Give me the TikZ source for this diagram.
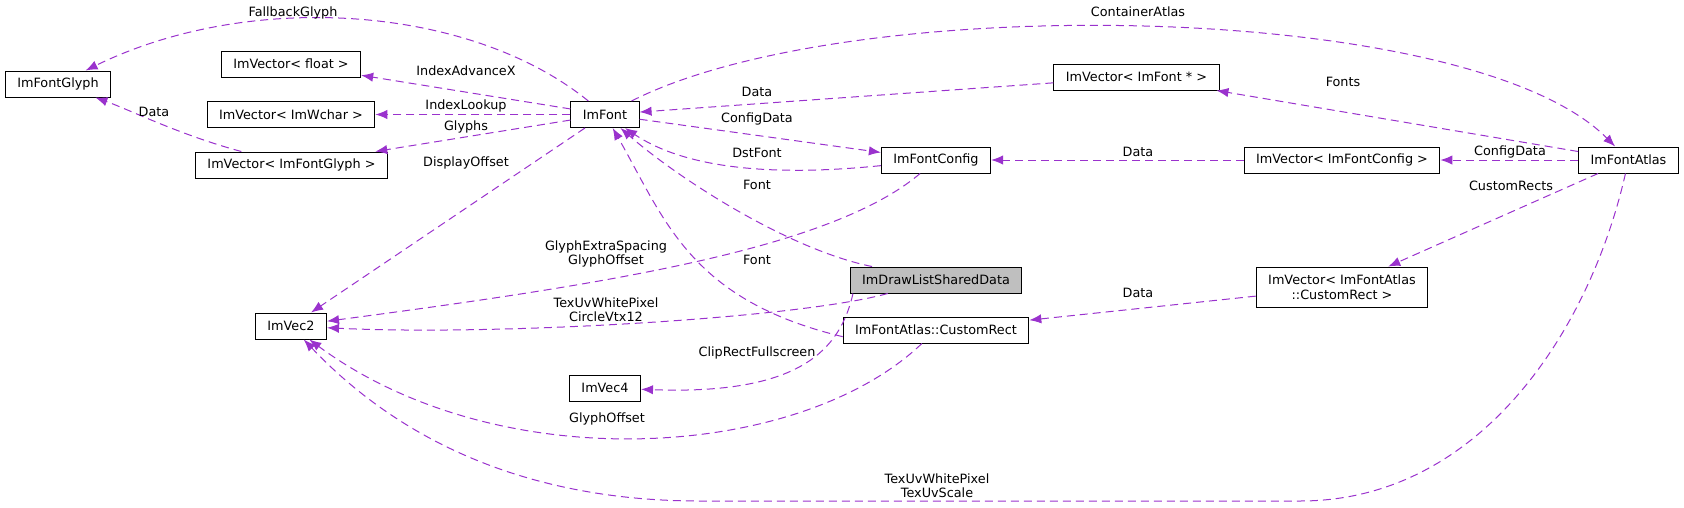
\documentclass[tikz,border=0pt]{standalone}
\usepackage{fontspec}
\setmainfont{DejaVu Sans}
\usetikzlibrary{arrows.meta}
\definecolor{edgecol}{HTML}{9A32CD}
\definecolor{curfill}{HTML}{BFBFBF}
\newcommand\dxfont{\fontsize{9.6pt}{10.9pt}\selectfont}

\begin{document}
\begin{tikzpicture}[x=0.75pt,y=-0.75pt,
  cls/.style={draw=black, fill=white, line width=0.75pt, inner xsep=9pt, inner ysep=0pt, minimum height=19.5pt, font=\dxfont, align=center},
  cur/.style={cls, fill=curfill},
  lbl/.style={inner sep=0pt, font=\dxfont, align=center},
  rel/.style={draw=edgecol, line width=0.75pt, dash pattern=on 6pt off 3.75pt, -{Latex[length=9pt,width=7pt]}}]
\useasboundingbox (0,0) rectangle (1684,507);

% classes
\node[cls] (glyph) at (58,84) {ImFontGlyph};
\node[cls] (vfloat) at (291,64) {ImVector< float >};
\node[cls] (vwchar) at (291,114.5) {ImVector< ImWchar >};
\node[cls] (vglyph) at (291.5,165) {ImVector< ImFontGlyph >};
\node[cls] (vec2) at (291,326) {ImVec2};
\node[cls] (vec4) at (605,388) {ImVec4};
\node[cls] (font) at (605,114.5) {ImFont};
\node[cls] (config) at (936,160) {ImFontConfig};
\node[cur] (shared) at (936,280) {ImDrawListSharedData}; % current
\node[cls] (rect) at (936,330) {ImFontAtlas::CustomRect};
\node[cls] (vfontp) at (1136.5,77) {ImVector< ImFont * >};
\node[cls] (vconfig) at (1342,160) {ImVector< ImFontConfig >};
\node[cls, minimum height=30pt] (vrect) at (1342,287) {ImVector< ImFontAtlas\\::CustomRect >};
\node[cls] (atlas) at (1628.5,160) {ImFontAtlas};

\coordinate (bendR) at (1300,501);
\coordinate (bendL) at (700,501);

% ImFont members
\draw[rel] (font) .. controls (470,5) and (250,-10) .. (glyph);
\draw[rel] (vglyph) .. controls (180,135) and (130,110) .. (glyph);
\draw[rel] (font) -- (vfloat);
\draw[rel] (font) -- (vwchar);
\draw[rel] (font) -- (vglyph);
\draw[rel] (font) -- (vec2);
\draw[rel] (font) .. controls (850,-10) and (1470,0) .. (atlas);
\draw[rel] (font) -- (config);

% back to ImFont
\draw[rel] (vfontp) -- (font);
\draw[rel] (config) .. controls (760,178) and (680,165) .. (font);
\draw[rel] ([xshift=-48pt]shared.north) .. controls (790,250) and (680,180) .. (font);
\draw[rel] ([yshift=-5pt]rect.west) .. controls (690,300) and (665,220) .. (font);

% ImVec2 / ImVec4
\draw[rel] (config) .. controls (830,250) and (600,285) .. (vec2);
\draw[rel] (shared) .. controls (800,318) and (500,336) .. (vec2);
\draw[rel] ([xshift=2.5pt]shared.south west) .. controls (840,350) and (800,395) .. (vec4);
\draw[rel] (rect) .. controls (800,460) and (500,480) .. (vec2);
\draw[rel] (atlas) .. controls (1590,330) and (1480,501) .. (bendR) -- (bendL)
  .. controls (500,501) and (380,420) .. (vec2);

% ImFontAtlas members
\draw[rel] (atlas) -- (vfontp);
\draw[rel] (atlas) -- (vconfig);
\draw[rel] (atlas) -- (vrect);
\draw[rel] (vconfig) -- (config);
\draw[rel] (vrect) -- (rect);

% labels
\node[lbl] (lFallback) at (293,13) {FallbackGlyph};
\node[lbl] (lGlyphData) at (154,112) {Data};
\node[lbl] (lAdvance) at (466,71) {IndexAdvanceX};
\node[lbl] (lLookup) at (466,106) {IndexLookup};
\node[lbl] (lGlyphs) at (466,127) {Glyphs};
\node[lbl] (lDisplay) at (466,163) {DisplayOffset};
\node[lbl] (lContainer) at (1138,12) {ContainerAtlas};
\node[lbl] (lFontData) at (757,92) {Data};
\node[lbl] (lConfigData) at (757,119) {ConfigData};
\node[lbl] (lDst) at (757,153) {DstFont};
\node[lbl] (lFontA) at (757,185) {Font};
\node[lbl] (lFontB) at (757,260) {Font};
\node[lbl] (lSpacing) at (606,254) {GlyphExtraSpacing\\GlyphOffset};
\node[lbl] (lCircle) at (606,309.5) {TexUvWhitePixel\\CircleVtx12};
\node[lbl] (lClip) at (757,353) {ClipRectFullscreen};
\node[lbl] (lOffset) at (607,419) {GlyphOffset};
\node[lbl] (lScale) at (937,485.5) {TexUvWhitePixel\\TexUvScale};
\node[lbl] (lFonts) at (1343,82) {Fonts};
\node[lbl] (lAtlasConfig) at (1510,152) {ConfigData};
\node[lbl] (lVConfigData) at (1138,152) {Data};
\node[lbl] (lRects) at (1511,186) {CustomRects};
\node[lbl] (lRectData) at (1138,293) {Data};
\end{tikzpicture}
\end{document}
